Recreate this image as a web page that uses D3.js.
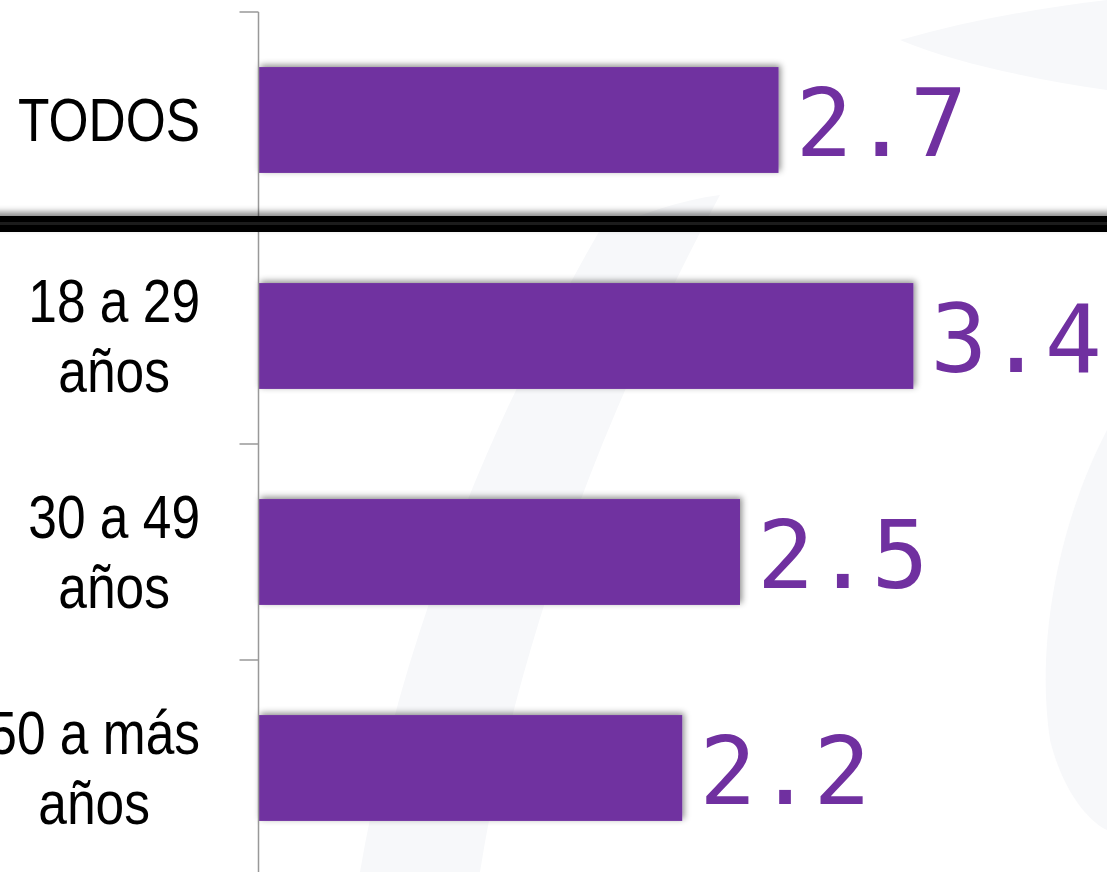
<!DOCTYPE html>
<html>
<head>
<meta charset="utf-8">
<script src="https://cdn.jsdelivr.net/npm/d3@7"></script>
<style>
  html, body { margin: 0; padding: 0; background: #fff; overflow: hidden; }
</style>
</head>
<body>
<figure id="bars" style="margin:0"></figure>
<script>
// categories, one line per array entry
const categories = [["TODOS"], ["18 a 29", "años"], ["30 a 49", "años"], ["50 a más", "años"]];
const values = [2.7, 3.4, 2.5, 2.2];
const valueLabels = ["2.7", "3.4", "2.5", "2.2"];

const width = 1107;
const height = 872;
const axisX = 258.5;
const top0 = 12;
const band = 216;
const narrow = 0.83; // no narrow font installed, squeeze the sans instead

const svg = d3.select("figure#bars")
  .append("svg")
  .attr("width", width)
  .attr("height", height);

const defs = svg.append("defs");
defs.append("filter")
  .attr("id", "barShadow")
  .attr("x", "-10%").attr("y", "-30%").attr("width", "120%").attr("height", "160%")
  .append("feDropShadow")
  .attr("dx", 2).attr("dy", -2)
  .attr("stdDeviation", 3)
  .attr("flood-color", "#000")
  .attr("flood-opacity", 0.45);
defs.append("filter")
  .attr("id", "lineShadow")
  .attr("x", "-5%").attr("y", "-200%").attr("width", "110%").attr("height", "500%")
  .append("feDropShadow")
  .attr("dx", 0).attr("dy", -4)
  .attr("stdDeviation", 3)
  .attr("flood-color", "#000")
  .attr("flood-opacity", 0.45);

// faint watermark shapes in the background
const wm = svg.append("g").attr("fill", "#f7f8fa");
wm.append("path").attr("d", "M600,230 C640,215 680,200 720,195 C620,380 520,620 480,872 L360,872 C400,640 490,420 600,230 Z");
wm.append("path").attr("d", "M1107,430 C1060,520 1035,640 1050,740 C1065,800 1095,825 1107,830 Z");
wm.append("path").attr("d", "M900,40 C970,20 1040,8 1107,0 L1107,90 C1040,80 960,65 900,40 Z");

const x = d3.scaleLinear()
  .domain([0, 4])
  .range([axisX, axisX + 4 * 192.6]);

const y = d3.scaleBand()
  .domain(categories.map((d, i) => i))
  .range([top0, top0 + band * categories.length])
  .paddingInner(0.51)
  .paddingOuter(0.255);

// bars
svg.selectAll("rect.bar")
  .data(values)
  .enter()
  .append("rect")
  .attr("class", "bar")
  .attr("x", axisX)
  .attr("y", (d, i) => y(i))
  .attr("width", d => x(d) - axisX)
  .attr("height", y.bandwidth())
  .attr("fill", "#7030A0")
  .attr("filter", "url(#barShadow)");

// value labels
svg.selectAll("text.val")
  .data(values)
  .enter()
  .append("text")
  .attr("class", "val")
  .attr("x", d => x(d) + 17)
  .attr("y", (d, i) => y(i) + y.bandwidth() / 2 + 36)
  .attr("fill", "#7030A0")
  .style("font-family", "'DejaVu Sans Mono', monospace")
  .style("font-size", "95px")
  .text((d, i) => valueLabels[i]);

// y axis with ticks between categories
const yAxis = svg.append("g");
yAxis.append("line")
  .attr("x1", axisX).attr("x2", axisX)
  .attr("y1", top0).attr("y2", height)
  .attr("stroke", "#999").attr("stroke-width", 1.5);
yAxis.selectAll("line.tick")
  .data(categories)
  .enter()
  .append("line")
  .attr("class", "tick")
  .attr("x1", axisX - 19).attr("x2", axisX)
  .attr("y1", (d, i) => y(i) - y.step() * y.paddingInner() / 2)
  .attr("y2", (d, i) => y(i) - y.step() * y.paddingInner() / 2)
  .attr("stroke", "#999").attr("stroke-width", 1.5);

// category labels, each block right-aligned at 200 with lines centred
const labels = svg.selectAll("g.cat")
  .data(categories)
  .enter()
  .append("g")
  .attr("class", "cat");

labels.each(function(lines, i) {
  const g = d3.select(this);
  const cy = y(i) + y.bandwidth() / 2;
  const lineH = 70;
  const t = g.append("text")
    .attr("text-anchor", "middle")
    .attr("fill", "#000")
    .style("font-family", "'Liberation Sans', Arial, sans-serif")
    .style("font-size", "62px");
  lines.forEach((s, k) => {
    t.append("tspan")
      .attr("x", 0)
      .attr("y", cy + 21 + (k - (lines.length - 1) / 2) * lineH)
      .text(s);
  });
  const w = t.node().getBBox().width * narrow;
  t.attr("transform", "translate(" + (200 - w / 2) + ",0) scale(" + narrow + ",1)");
});

// thick separator between TODOS and the age groups
const sep = svg.append("g").attr("filter", "url(#lineShadow)");
sep.append("rect")
  .attr("x", -10).attr("y", 216)
  .attr("width", width + 20).attr("height", 16)
  .attr("fill", "#000");
sep.append("rect")
  .attr("x", -10).attr("y", 222)
  .attr("width", width + 20).attr("height", 3)
  .attr("fill", "#1c1c1c");
</script>
</body>
</html>
